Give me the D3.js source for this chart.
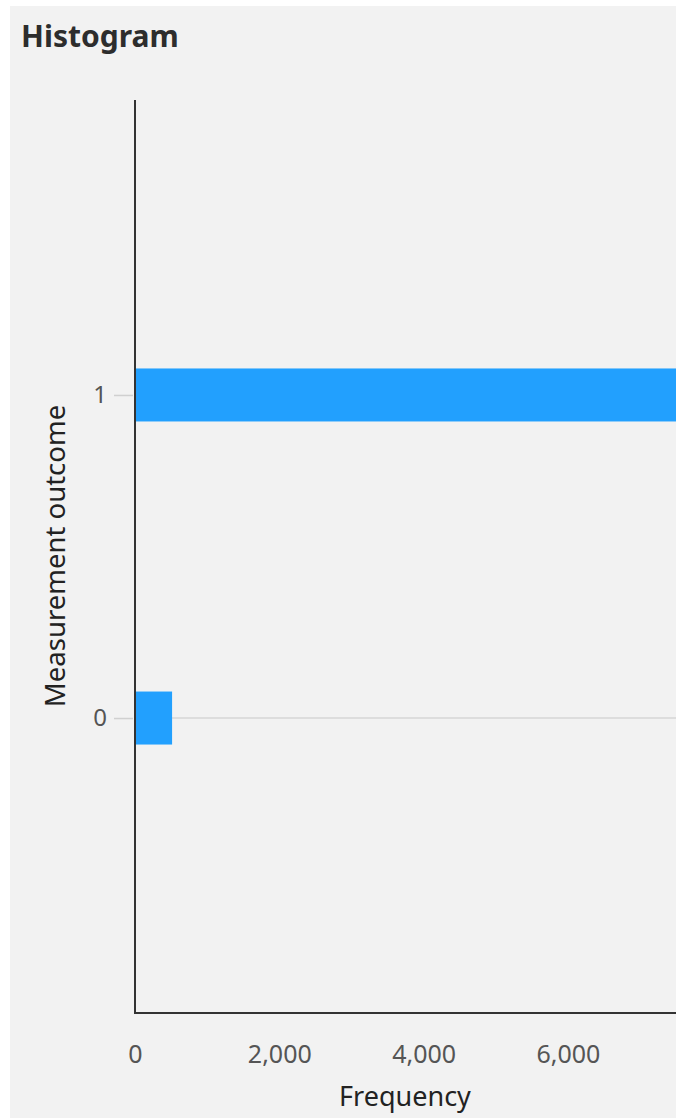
<!DOCTYPE html>
<html>
<head>
<meta charset="utf-8">
<script src="https://cdn.jsdelivr.net/npm/d3@7"></script>
<style>
  html, body { margin: 0; padding: 0; background: #ffffff; }
  svg { display: block; }
</style>
</head>
<body>
<script>
const categories = ["0", "1"];
const frequencies = [514, 7678];
const xTickValues = [0, 2000, 4000, 6000];
const titleText = "Histogram";
const xAxisTitle = "Frequency";
const yAxisTitle = "Measurement outcome";

(function () {
const W = 676, H = 1118;
const svg = d3.select("body").append("svg").attr("width", W).attr("height", H);
const FONT = "'Noto Sans', 'Open Sans', sans-serif";

svg.append("rect").attr("x", 10).attr("y", 6).attr("width", W - 10).attr("height", H - 6).attr("fill", "#f2f2f2");

svg.append("text").attr("x", 21).attr("y", 47).text(titleText)
  .attr("font-family", FONT).attr("font-size", 30).attr("font-weight", 700).attr("fill", "#2d2d2d");

const pLeft = 135, pTop = 100, pBottom = 1013;
const x = d3.scaleLinear().domain([0, 8000]).range([pLeft, pLeft + 8000 * 0.07215]);
const y = d3.scalePoint().domain(["1", "0"]).range([pTop, pBottom]).padding(0.913);

svg.append("clipPath").attr("id", "plotclip").append("rect")
  .attr("x", pLeft).attr("y", pTop).attr("width", W - pLeft).attr("height", pBottom - pTop);

const plot = svg.append("g").attr("clip-path", "url(#plotclip)");

plot.selectAll("line.grid").data(categories).enter().append("line")
  .attr("x1", pLeft).attr("x2", W).attr("y1", d => y(d)).attr("y2", d => y(d))
  .attr("stroke", "#d6d6d6").attr("stroke-width", 1.5);

const barH = 53;
plot.selectAll("rect.bar").data(categories).enter().append("rect")
  .attr("x", x(0)).attr("y", d => y(d) - barH / 2)
  .attr("width", (d, i) => x(frequencies[i]) - x(0)).attr("height", barH)
  .attr("fill", "#22a0fe");

const yAxis = d3.axisLeft(y).tickSize(19).tickPadding(7);
const gy = svg.append("g").attr("transform", `translate(${pLeft - 2},0)`).call(yAxis);
gy.select(".domain").remove();
gy.selectAll(".tick line").attr("stroke", "#d0d0d0").attr("stroke-width", 1.5);
gy.selectAll(".tick text").attr("font-family", FONT).attr("font-size", 24).attr("fill", "#555");

const xAxis = d3.axisBottom(x).tickValues(xTickValues).tickSize(0).tickPadding(32).tickFormat(d3.format(","));
const gx = svg.append("g").attr("transform", `translate(0,${pBottom})`).call(xAxis);
gx.select(".domain").remove();
gx.selectAll(".tick text").attr("font-family", FONT).attr("font-size", 25).attr("fill", "#555");

svg.append("line").attr("x1", pLeft).attr("x2", pLeft).attr("y1", pTop).attr("y2", pBottom + 1)
  .attr("stroke", "#333").attr("stroke-width", 2);
svg.append("line").attr("x1", pLeft).attr("x2", W).attr("y1", pBottom).attr("y2", pBottom)
  .attr("stroke", "#333").attr("stroke-width", 2);

svg.append("text").attr("x", 405).attr("y", 1106).attr("text-anchor", "middle").text(xAxisTitle)
  .attr("font-family", FONT).attr("font-size", 27).attr("fill", "#222");

svg.append("text").attr("transform", `translate(65,556) rotate(-90)`).attr("text-anchor", "middle").text(yAxisTitle)
  .attr("font-family", FONT).attr("font-size", 27.5).attr("fill", "#222");
})();
</script>
</body>
</html>
